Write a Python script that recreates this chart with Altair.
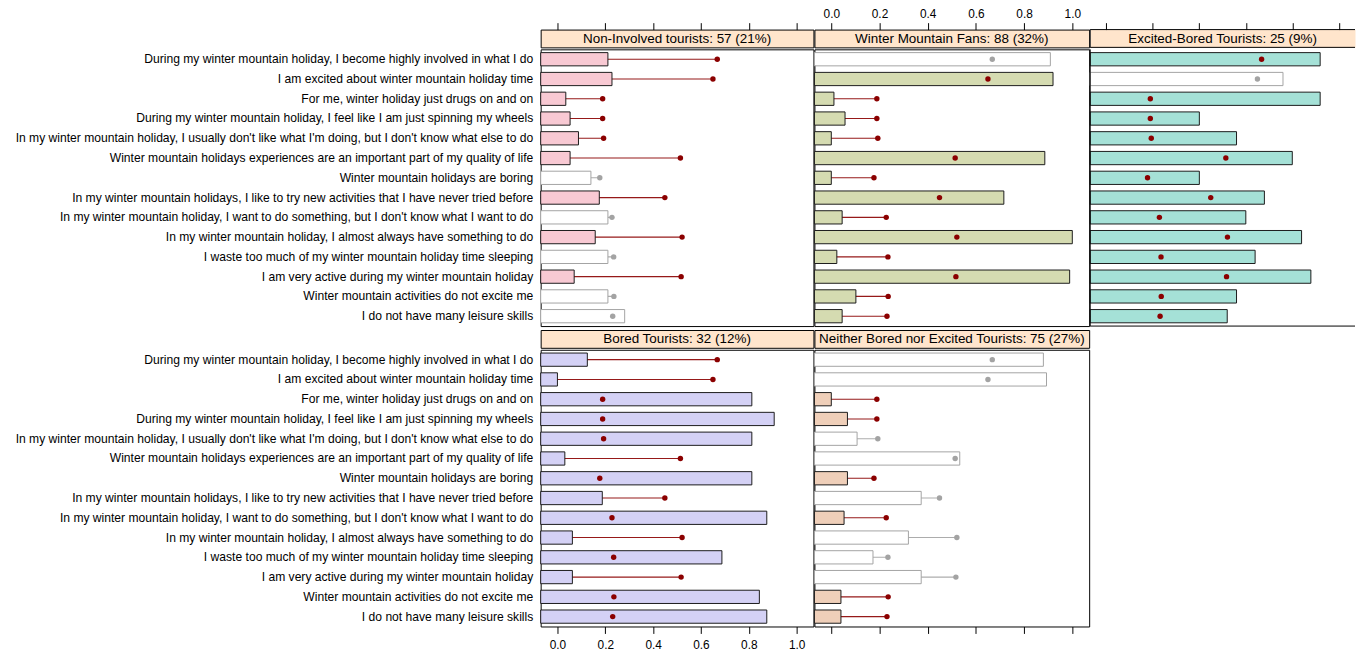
import altair as alt
import pandas as pd

items = [
    "During my winter mountain holiday, I become highly involved in what I do",
    "I am excited about winter mountain holiday time",
    "For me, winter holiday just drugs on and on",
    "During my winter mountain holiday, I feel like I am just spinning my wheels",
    "In my winter mountain holiday, I usually don't like what I'm doing, but I don't know what else to do",
    "Winter mountain holidays experiences are an important part of my quality of life",
    "Winter mountain holidays are boring",
    "In my winter mountain holidays, I like to try new activities that I have never tried before",
    "In my winter mountain holiday, I want to do something, but I don't know what I want to do",
    "In my winter mountain holiday, I almost always have something to do",
    "I waste too much of my winter mountain holiday time sleeping",
    "I am very active during my winter mountain holiday",
    "Winter mountain activities do not excite me",
    "I do not have many leisure skills",
]

# overall (population) share per item
mean_all = [0.668, 0.650, 0.189, 0.189, 0.193, 0.514, 0.177, 0.449, 0.228, 0.521, 0.235, 0.517, 0.236, 0.231]

seg_titles = [
    "Non-Involved tourists: 57 (21%)",
    "Winter Mountain Fans: 88 (32%)",
    "Excited-Bored Tourists: 25 (9%)",
    "Bored Tourists: 32 (12%)",
    "Neither Bored nor Excited Tourists: 75 (27%)",
]
seg_colors = ["#F8C9D3", "#D5DBB1", "#A5E1D7", "#D4D1F5", "#EFCFB9"]

vals_nonInvolved = [0.211, 0.228, 0.035, 0.053, 0.088, 0.053, 0.140, 0.175, 0.211, 0.158, 0.211, 0.070, 0.211, 0.281]
vals_fans = [0.909, 0.920, 0.011, 0.057, 0.0, 0.886, 0.0, 0.716, 0.045, 1.0, 0.023, 0.989, 0.102, 0.045]
vals_excitedBored = [0.92, 0.76, 0.92, 0.40, 0.56, 0.80, 0.40, 0.68, 0.60, 0.84, 0.64, 0.88, 0.56, 0.52]
vals_bored = [0.125, 0.0, 0.8125, 0.906, 0.8125, 0.031, 0.8125, 0.1875, 0.875, 0.0625, 0.6875, 0.0625, 0.844, 0.875]
vals_neither = [0.880, 0.893, 0.0, 0.067, 0.107, 0.533, 0.067, 0.373, 0.053, 0.320, 0.173, 0.373, 0.040, 0.040]

mk_nonInvolved = [1, 1, 1, 1, 1, 1, 0, 1, 0, 1, 0, 1, 0, 0]
mk_fans = [0, 1, 1, 1, 1, 1, 1, 1, 1, 1, 1, 1, 1, 1]
mk_excitedBored = [1, 0, 1, 1, 1, 1, 1, 1, 1, 1, 1, 1, 1, 1]
mk_bored = [1, 1, 1, 1, 1, 1, 1, 1, 1, 1, 1, 1, 1, 1]
mk_neither = [0, 0, 1, 1, 0, 0, 1, 0, 1, 0, 0, 0, 1, 1]

seg_vals = [vals_nonInvolved, vals_fans, vals_excitedBored, vals_bored, vals_neither]
seg_marked = [mk_nonInvolved, mk_fans, mk_excitedBored, mk_bored, mk_neither]

tick_values = [0.0, 0.2, 0.4, 0.6, 0.8, 1.0]
DOM = [-0.07, 1.07]
FONT = "Liberation Sans"
STRIP_H = 18
PANEL_H = 280
RED = "#8B0000"
GREY = "#A3A3A3"


def xscale():
    return alt.Scale(domain=DOM, nice=False, zero=False)


def make_axis(orient, labels):
    return alt.Axis(orient=orient, values=tick_values, format=".1f", labels=labels,
                    tickSize=7, tickColor="black", tickWidth=1, domain=False, grid=False,
                    labelFontSize=12, labelFont=FONT, labelColor="black",
                    labelPadding=2 if orient == "top" else 6,
                    title=None)


def border_layers(width, height, top=True, bottom=True, left=True):
    d = alt.Chart(pd.DataFrame({"a": [0]}))
    out = []
    if top:
        out.append(d.mark_rule(color="black", strokeWidth=1).encode(
            x=alt.value(0), x2=alt.value(width), y=alt.value(0)))
    if bottom:
        out.append(d.mark_rule(color="black", strokeWidth=1).encode(
            x=alt.value(0), x2=alt.value(width), y=alt.value(height)))
    if left:
        out.append(d.mark_rule(color="black", strokeWidth=1).encode(
            x=alt.value(0), y=alt.value(0), y2=alt.value(height)))
    return out


def strip(k, width, axis_orient=None, axis_labels=False, open_right=False):
    df = pd.DataFrame({"t": [seg_titles[k]]})
    if axis_orient:
        xe = alt.X(datum=0.5, scale=xscale(), axis=make_axis(axis_orient, axis_labels))
    else:
        xe = alt.X(datum=0.5, scale=xscale(), axis=None)
    txt = alt.Chart(df).mark_text(fontSize=13.6, font=FONT, color="black", baseline="middle").encode(
        x=xe, y=alt.value(STRIP_H / 2 + 0.5), text="t:N")
    layers = [txt]
    if open_right:
        layers += border_layers(width, STRIP_H)
        view = alt.ViewBackground(fill="#FFE5CC", stroke="transparent")
    else:
        view = alt.ViewBackground(fill="#FFE5CC", stroke="black", strokeWidth=1)
    return alt.layer(*layers).properties(width=width, height=STRIP_H, view=view)


def panel(k, width, show_y, x_axis_orient=None, x_axis_labels=False, open_right=False):
    df = pd.DataFrame({"item": items, "value": seg_vals[k], "mean": mean_all, "marked": seg_marked[k]})
    base = alt.Chart(df)
    if show_y:
        yax = alt.Axis(labelFontSize=12.25, labelFont=FONT, labelColor="black", labelLimit=900,
                       ticks=False, domain=False, labelPadding=8, title=None)
    else:
        yax = None
    ye = alt.Y("item:N", sort=items, scale=alt.Scale(paddingInner=0.33, paddingOuter=0.165), axis=yax, title=None)
    if x_axis_orient:
        xax = make_axis(x_axis_orient, x_axis_labels)
    else:
        xax = None
    cond_line = alt.condition("datum.marked == 1", alt.value(RED), alt.value(GREY))
    rule = base.mark_rule(strokeWidth=1.1, opacity=0.9).encode(
        x=alt.X("mean:Q", scale=xscale(), axis=xax, stack=None),
        x2=alt.value(0),
        y=ye,
        color=cond_line,
    )
    bar = base.mark_bar(strokeWidth=1).encode(
        x=alt.X("value:Q", scale=xscale(), axis=xax, stack=None),
        x2=alt.value(0),
        y=ye,
        fill=alt.condition("datum.marked == 1", alt.value(seg_colors[k]), alt.value("white")),
        stroke=alt.condition("datum.marked == 1", alt.value("#1a1a1a"), alt.value(GREY)),
    )
    dot = base.mark_circle(size=30, opacity=1).encode(
        x=alt.X("mean:Q", scale=xscale(), axis=xax, stack=None),
        y=ye,
        color=cond_line,
    )
    layers = [rule, bar, dot]
    if open_right:
        layers += border_layers(width, PANEL_H, top=False)
        view = alt.ViewBackground(stroke="transparent")
    else:
        view = alt.ViewBackground(stroke="black", strokeWidth=1)
    return alt.layer(*layers).properties(width=width, height=PANEL_H, view=view)


W1, W2, W3 = 276, 278, 268

c11 = alt.vconcat(strip(0, W1, "top", False), panel(0, W1, True), spacing=0)
c12 = alt.vconcat(strip(1, W2, "top", True), panel(1, W2, False), spacing=0)
c13 = alt.vconcat(strip(2, W3, "top", False, open_right=True), panel(2, W3, False, open_right=True), spacing=0)
c21 = alt.vconcat(strip(3, W1), panel(3, W1, True, "bottom", True), spacing=0)
c22 = alt.vconcat(strip(4, W2), panel(4, W2, False, "bottom", False), spacing=0)

row1 = alt.hconcat(c11, c12, c13, spacing=-2)
row2 = alt.hconcat(c21, c22, spacing=-2)

chart = alt.vconcat(row1, row2, spacing=2).properties(
    padding={"left": 6, "top": -5, "right": 0, "bottom": 0}
).configure(font=FONT).configure_view(stroke="black")

chart.save("out.html", embed_options={"renderer": "svg", "actions": False})
